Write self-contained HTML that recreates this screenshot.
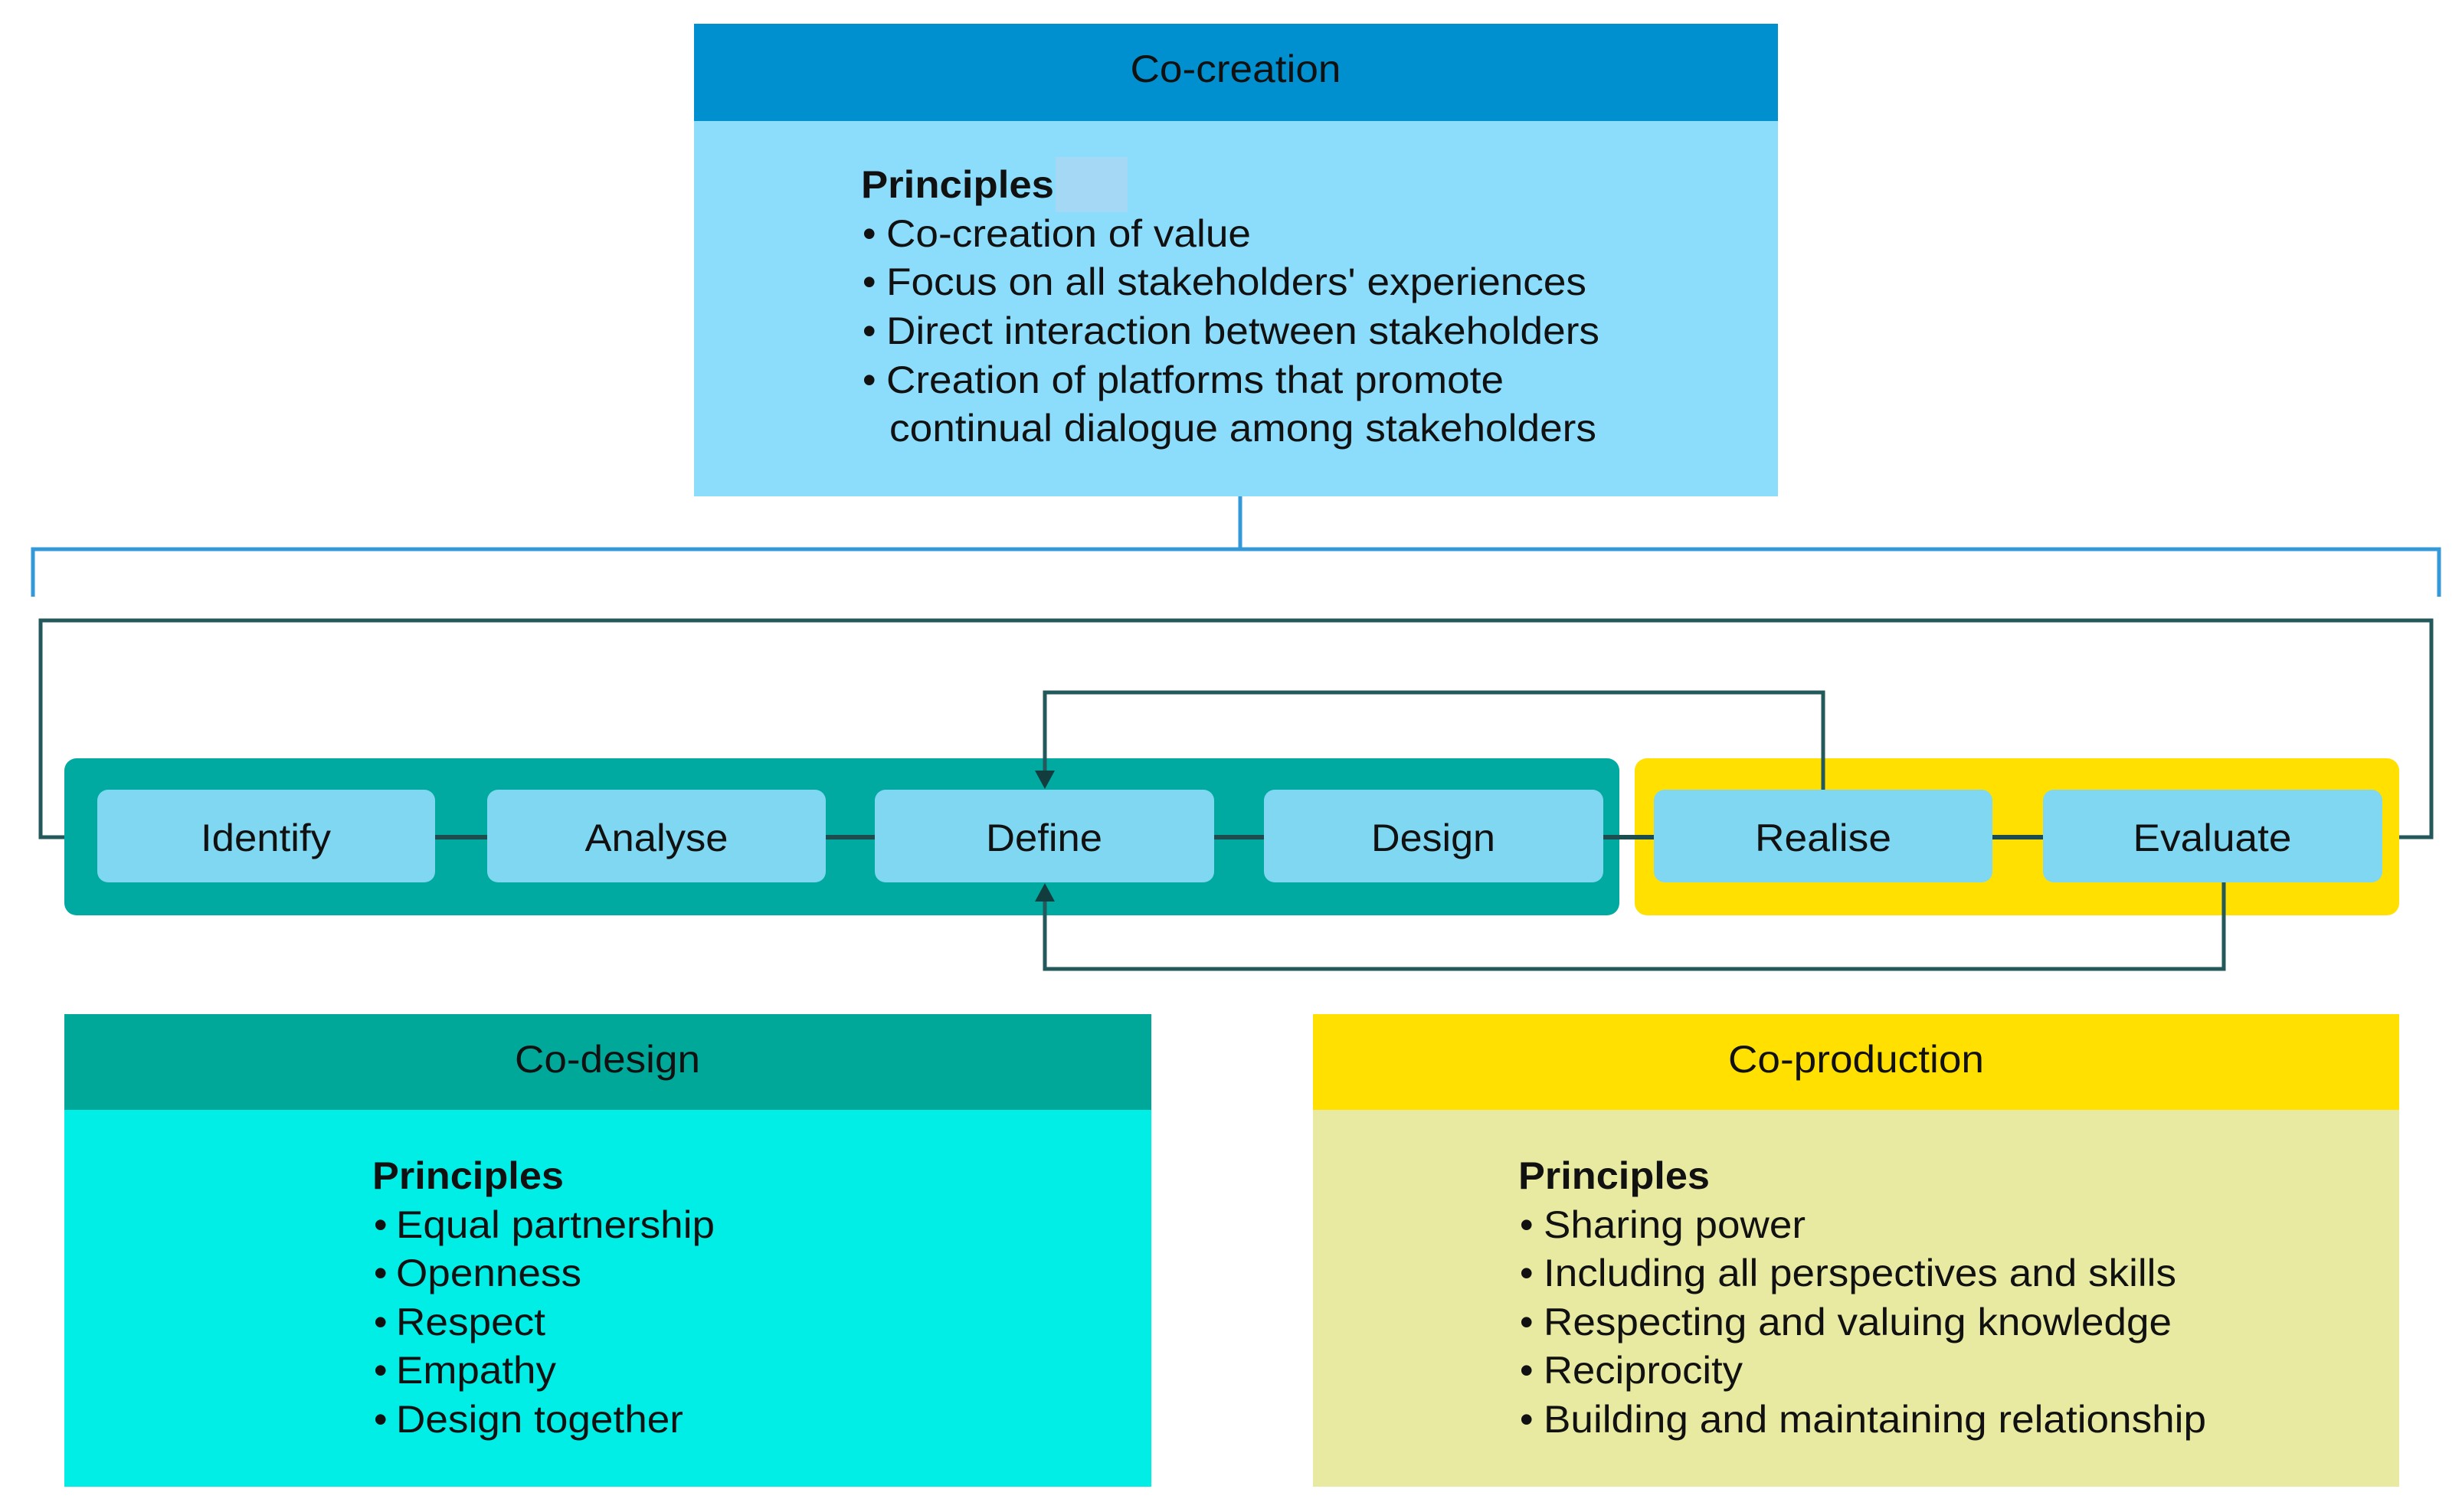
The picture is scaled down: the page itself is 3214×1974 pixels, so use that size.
<!DOCTYPE html>
<html><head><meta charset="utf-8"><style>
html,body{margin:0;padding:0;background:#fff}
svg{display:block}
text{font-family:"Liberation Sans",sans-serif;fill:#111}
</style></head><body>
<svg width="3214" height="1974" viewBox="0 0 3214 1974" xmlns="http://www.w3.org/2000/svg">
<!-- Co-creation box -->
<rect x="906" y="31" width="1415" height="617" fill="#8cdcfb"/>
<rect x="906" y="31" width="1415" height="127" fill="#0090d0"/>
<rect x="1378" y="205" width="94" height="72" fill="#a4d8f4"/>
<text x="1613" y="107" font-size="50" text-anchor="middle" textLength="275" lengthAdjust="spacingAndGlyphs">Co-creation</text>
<text x="1124" y="258" font-size="50" font-weight="bold" textLength="252" lengthAdjust="spacingAndGlyphs">Principles</text>
<g font-size="50">
<text x="1126" y="322">•</text><text x="1157" y="322" textLength="476" lengthAdjust="spacingAndGlyphs">Co-creation of value</text>
<text x="1126" y="385">•</text><text x="1157" y="385" textLength="914" lengthAdjust="spacingAndGlyphs">Focus on all stakeholders' experiences</text>
<text x="1126" y="449">•</text><text x="1157" y="449" textLength="931" lengthAdjust="spacingAndGlyphs">Direct interaction between stakeholders</text>
<text x="1126" y="513">•</text><text x="1157" y="513" textLength="806" lengthAdjust="spacingAndGlyphs">Creation of platforms that promote</text>
<text x="1161" y="576" textLength="923" lengthAdjust="spacingAndGlyphs">continual dialogue among stakeholders</text>
</g>
<!-- blue bracket -->
<path d="M1619 648 V717 M43 779 V717 H3184 V779" fill="none" stroke="#3399d8" stroke-width="5"/>
<!-- outer dark loop -->
<path d="M3110 1093 H3174 V810 H53 V1093 H105" fill="none" stroke="#24595c" stroke-width="5"/>
<polygon points="127,1093 103,1080 103,1106" fill="#123c3e"/>
<!-- containers -->
<rect x="84" y="990" width="2030" height="205" rx="16" fill="#00aaa0"/>
<rect x="2134" y="990" width="998" height="205" rx="16" fill="#ffe000"/>
<!-- connectors between steps -->
<path d="M568 1093 H2667" stroke="#1d4d4f" stroke-width="6"/>
<path d="M2093 1093 H2159" stroke="#1d4d4f" stroke-width="6"/>
<!-- top loop -->
<path d="M2380 1031 V904 H1364 V1008" fill="none" stroke="#24595c" stroke-width="5"/>
<polygon points="1364,1030 1351,1006 1377,1006" fill="#123c3e"/>
<!-- bottom loop -->
<path d="M2903 1152 V1265 H1364 V1176" fill="none" stroke="#24595c" stroke-width="5"/>
<polygon points="1364,1153 1351,1177 1377,1177" fill="#123c3e"/>
<!-- steps -->
<g fill="#7fd7f1">
<rect x="127" y="1031" width="441" height="121" rx="14"/>
<rect x="636" y="1031" width="442" height="121" rx="14"/>
<rect x="1142" y="1031" width="443" height="121" rx="14"/>
<rect x="1650" y="1031" width="443" height="121" rx="14"/>
<rect x="2159" y="1031" width="442" height="121" rx="14"/>
<rect x="2667" y="1031" width="443" height="121" rx="14"/>
</g>
<g font-size="50" text-anchor="middle">
<text x="347" y="1111" textLength="170" lengthAdjust="spacingAndGlyphs">Identify</text>
<text x="857" y="1111" textLength="187" lengthAdjust="spacingAndGlyphs">Analyse</text>
<text x="1363" y="1111" textLength="152" lengthAdjust="spacingAndGlyphs">Define</text>
<text x="1871" y="1111" textLength="162" lengthAdjust="spacingAndGlyphs">Design</text>
<text x="2380" y="1111" textLength="178" lengthAdjust="spacingAndGlyphs">Realise</text>
<text x="2888" y="1111" textLength="207" lengthAdjust="spacingAndGlyphs">Evaluate</text>
</g>
<!-- Co-design -->
<rect x="84" y="1324" width="1419" height="617" fill="#00eee6"/>
<rect x="84" y="1324" width="1419" height="125" fill="#00a89a"/>
<text x="793" y="1400" font-size="50" text-anchor="middle" textLength="242" lengthAdjust="spacingAndGlyphs">Co-design</text>
<text x="486" y="1552" font-size="50" font-weight="bold" textLength="250" lengthAdjust="spacingAndGlyphs">Principles</text>
<g font-size="50">
<text x="488" y="1616">•</text><text x="517" y="1616" textLength="416" lengthAdjust="spacingAndGlyphs">Equal partnership</text>
<text x="488" y="1679">•</text><text x="517" y="1679" textLength="242" lengthAdjust="spacingAndGlyphs">Openness</text>
<text x="488" y="1743">•</text><text x="517" y="1743" textLength="195" lengthAdjust="spacingAndGlyphs">Respect</text>
<text x="488" y="1806">•</text><text x="517" y="1806" textLength="209" lengthAdjust="spacingAndGlyphs">Empathy</text>
<text x="488" y="1870">•</text><text x="517" y="1870" textLength="375" lengthAdjust="spacingAndGlyphs">Design together</text>
</g>
<!-- Co-production -->
<rect x="1714" y="1324" width="1418" height="617" fill="#e8eaa2"/>
<rect x="1714" y="1324" width="1418" height="125" fill="#ffe000"/>
<text x="2423" y="1400" font-size="50" text-anchor="middle" textLength="334" lengthAdjust="spacingAndGlyphs">Co-production</text>
<text x="1982" y="1552" font-size="50" font-weight="bold" textLength="250" lengthAdjust="spacingAndGlyphs">Principles</text>
<g font-size="50">
<text x="1984" y="1616">•</text><text x="2015" y="1616" textLength="342" lengthAdjust="spacingAndGlyphs">Sharing power</text>
<text x="1984" y="1679">•</text><text x="2015" y="1679" textLength="826" lengthAdjust="spacingAndGlyphs">Including all perspectives and skills</text>
<text x="1984" y="1743">•</text><text x="2015" y="1743" textLength="820" lengthAdjust="spacingAndGlyphs">Respecting and valuing knowledge</text>
<text x="1984" y="1806">•</text><text x="2015" y="1806" textLength="260" lengthAdjust="spacingAndGlyphs">Reciprocity</text>
<text x="1984" y="1870">•</text><text x="2015" y="1870" textLength="865" lengthAdjust="spacingAndGlyphs">Building and maintaining relationship</text>
</g>
</svg>
</body></html>
